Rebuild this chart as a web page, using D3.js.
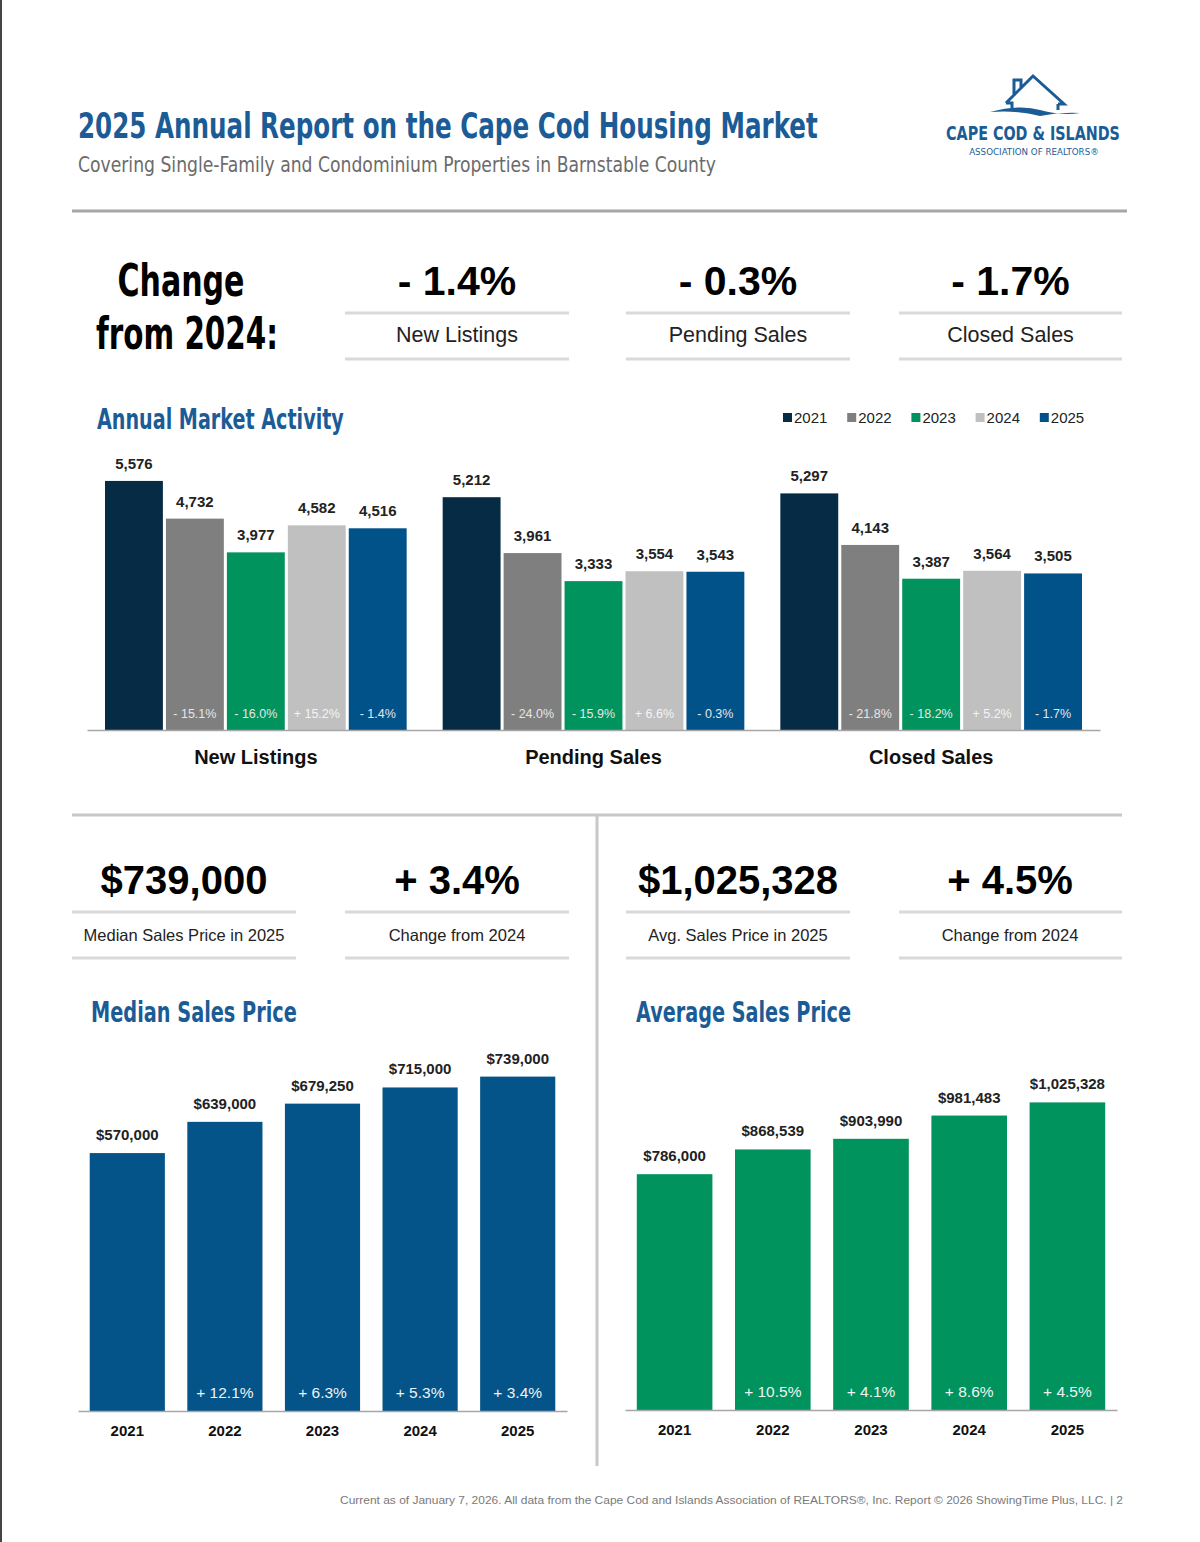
<!DOCTYPE html>
<html>
<head>
<meta charset="utf-8">
<script src="https://cdn.jsdelivr.net/npm/d3@7"></script>
<style>
  body { margin: 0; background: #fff; }
  .narrow { font-family: "Liberation Sans Narrow", "DejaVu Sans Condensed", sans-serif; }
  .sans { font-family: "Liberation Sans", Arial, sans-serif; }
</style>
</head>
<body>
<script>
// chart data
const years = ["2021", "2022", "2023", "2024", "2025"];
const activityCategories = ["New Listings", "Pending Sales", "Closed Sales"];
const newListings = [5576, 4732, 3977, 4582, 4516];
const pendingSales = [5212, 3961, 3333, 3554, 3543];
const closedSales = [5297, 4143, 3387, 3564, 3505];
const newListingsChange = ["", "- 15.1%", "- 16.0%", "+ 15.2%", "- 1.4%"];
const pendingSalesChange = ["", "- 24.0%", "- 15.9%", "+ 6.6%", "- 0.3%"];
const closedSalesChange = ["", "- 21.8%", "- 18.2%", "+ 5.2%", "- 1.7%"];
const headlineChanges = ["- 1.4%", "- 0.3%", "- 1.7%"];

const medianPrice = [570000, 639000, 679250, 715000, 739000];
const medianChange = ["", "+ 12.1%", "+ 6.3%", "+ 5.3%", "+ 3.4%"];
const avgPrice = [786000, 868539, 903990, 981483, 1025328];
const avgChange = ["", "+ 10.5%", "+ 4.1%", "+ 8.6%", "+ 4.5%"];

const yearColors = ["#062b45", "#7f7f7f", "#00935d", "#c0c0c0", "#02528a"];
const BLUE = "#1b5c96";

const width = 1200, height = 1542;
const svg = d3.select("body").append("svg")
    .attr("width", width)
    .attr("height", height);

svg.append("rect").attr("width", width).attr("height", height).attr("fill", "#fff");
svg.append("line").attr("x1", 1).attr("x2", 1).attr("y1", 0).attr("y2", height)
    .attr("stroke", "#444").attr("stroke-width", 2);

// narrow headline text, squeezed horizontally to the width it has in the report
function narrowText(x, y, size, color, len, txt, anchor, weight) {
    const t = svg.append("text").attr("class", "narrow")
        .attr("x", 0).attr("y", 0)
        .attr("text-anchor", anchor || "start")
        .attr("font-size", size).attr("font-weight", weight || "bold").attr("fill", color)
        .text(txt);
    const k = len / t.node().getComputedTextLength();
    t.attr("transform", `translate(${x},${y}) scale(${k},1)`);
    return t;
}

// header
narrowText(78, 138, 36, BLUE, 740, "2025 Annual Report on the Cape Cod Housing Market");
narrowText(78, 172, 22, "#6b6b6b", 638, "Covering Single-Family and Condominium Properties in Barnstable County", "start", "normal");

// logo
const logo = svg.append("g").attr("fill", "none").attr("stroke", BLUE).attr("stroke-width", 3);
logo.append("path")
    .attr("d", "M1006,103 L1033,76 L1064,104 L1058,104 M1006,103 L1012,103 L1012,110 M1014,96 L1014,80 L1021,80 L1021,89 M1058,104 L1058,110");
svg.append("path")
    .attr("d", "M990,112 Q1020,104 1040,110 Q1062,116 1080,113 Q1060,112 1040,116 Q1018,110 990,112 Z")
    .attr("fill", BLUE);
narrowText(1033, 140, 20, BLUE, 174, "CAPE COD & ISLANDS", "middle");
narrowText(1034, 155, 9.5, BLUE, 130, "ASSOCIATION OF REALTORS®", "middle", "normal");

svg.append("line").attr("x1", 72).attr("x2", 1127).attr("y1", 211).attr("y2", 211)
    .attr("stroke", "#a6a6a6").attr("stroke-width", 3);

// change from 2024 row
narrowText(181, 296, 44, "#000", 127, "Change", "middle");
narrowText(187, 349, 44, "#000", 182, "from 2024:", "middle");

function statCard(cx, x1, x2, big, small, bigSize, bigY) {
    svg.append("text").attr("class", "sans")
        .attr("x", cx).attr("y", bigY).attr("text-anchor", "middle")
        .attr("font-size", bigSize).attr("font-weight", "bold").attr("fill", "#000")
        .text(big);
    svg.append("line").attr("x1", x1).attr("x2", x2).attr("y1", bigY + 18).attr("y2", bigY + 18)
        .attr("stroke", "#d9d9d9").attr("stroke-width", 3);
    svg.append("text").attr("class", "sans")
        .attr("x", cx).attr("y", bigY + 47).attr("text-anchor", "middle")
        .attr("font-size", small.size).attr("fill", "#222")
        .text(small.text);
    svg.append("line").attr("x1", x1).attr("x2", x2).attr("y1", bigY + 64).attr("y2", bigY + 64)
        .attr("stroke", "#d9d9d9").attr("stroke-width", 3);
}

const cardX = [[345, 569], [626, 850], [899, 1122]];
activityCategories.forEach((c, i) => {
    const [a, b] = cardX[i];
    statCard((a + b) / 2, a, b, headlineChanges[i], { text: c, size: 21.5 }, 41, 295);
});

// annual market activity
narrowText(97, 429, 28, BLUE, 247, "Annual Market Activity");

const legend = svg.append("g").selectAll("g").data(years).enter().append("g")
    .attr("transform", (d, i) => `translate(${783 + i * 64.2},413)`);
legend.append("rect").attr("width", 9).attr("height", 9).attr("fill", (d, i) => yearColors[i]);
legend.append("text").attr("class", "sans").attr("x", 11).attr("y", 10)
    .attr("font-size", 15).attr("fill", "#222").text(d => d);

const activity = [
    { name: activityCategories[0], values: newListings, changes: newListingsChange },
    { name: activityCategories[1], values: pendingSales, changes: pendingSalesChange },
    { name: activityCategories[2], values: closedSales, changes: closedSalesChange }
];

const x0 = d3.scaleBand().domain(activityCategories).range([87, 1100]);
const x1 = d3.scaleBand().domain(years).range([18, x0.bandwidth() - 18]).paddingInner(0.05);
const yA = d3.scaleLinear().domain([0, 6000]).range([730, 462]);

const groups = svg.append("g").selectAll("g").data(activity).enter().append("g")
    .attr("transform", d => `translate(${x0(d.name)},0)`);

groups.selectAll("rect").data(d => d.values).enter().append("rect")
    .attr("x", (v, i) => x1(years[i]))
    .attr("width", x1.bandwidth())
    .attr("y", v => yA(v))
    .attr("height", v => yA(0) - yA(v))
    .attr("fill", (v, i) => yearColors[i]);

groups.selectAll("text.val").data(d => d.values).enter().append("text")
    .attr("class", "val sans")
    .attr("x", (v, i) => x1(years[i]) + x1.bandwidth() / 2)
    .attr("y", v => yA(v) - 12)
    .attr("text-anchor", "middle")
    .attr("font-size", 15).attr("font-weight", "bold").attr("fill", "#222")
    .text(v => d3.format(",")(v));

groups.selectAll("text.chg").data(d => d.changes).enter().append("text")
    .attr("class", "chg sans")
    .attr("x", (c, i) => x1(years[i]) + x1.bandwidth() / 2)
    .attr("y", 718)
    .attr("text-anchor", "middle")
    .attr("font-size", 12.5).attr("fill", (c, i) => i === 3 ? "#f4f4f4" : "#e6e6e6")
    .text(c => c);

svg.append("g").attr("transform", "translate(0,730)")
    .call(d3.axisBottom(x0).tickSize(0).tickPadding(20))
    .call(g => g.select(".domain").attr("stroke", "#a6a6a6").attr("stroke-width", 1.5))
    .call(g => g.selectAll("text").attr("class", "sans").attr("font-size", 20)
        .attr("font-weight", "bold").attr("fill", "#111"));

// dividers
svg.append("line").attr("x1", 72).attr("x2", 1122).attr("y1", 815).attr("y2", 815)
    .attr("stroke", "#c8c8c8").attr("stroke-width", 3);
svg.append("line").attr("x1", 597).attr("x2", 597).attr("y1", 815).attr("y2", 1466)
    .attr("stroke", "#c8c8c8").attr("stroke-width", 3);

// price cards
statCard(184, 72, 296, "$" + d3.format(",")(medianPrice[4]), { text: "Median Sales Price in 2025", size: 16.5 }, 40, 894);
statCard(457, 345, 569, medianChange[4], { text: "Change from 2024", size: 16.5 }, 40, 894);
statCard(738, 626, 850, "$" + d3.format(",")(avgPrice[4]), { text: "Avg. Sales Price in 2025", size: 16.5 }, 40, 894);
statCard(1010, 899, 1122, avgChange[4], { text: "Change from 2024", size: 16.5 }, 40, 894);

function priceChart(title, titleX, titleLen, values, changes, color, range, base, maxV, topY) {
    narrowText(titleX, 1022, 28, BLUE, titleLen, title);

    const x = d3.scaleBand().domain(years).range(range).paddingInner(0.23).paddingOuter(0.12);
    const y = d3.scaleLinear().domain([0, maxV]).range([base, topY]);

    const g = svg.append("g");
    g.selectAll("rect").data(values).enter().append("rect")
        .attr("x", (v, i) => x(years[i]))
        .attr("width", x.bandwidth())
        .attr("y", v => y(v))
        .attr("height", v => y(0) - y(v))
        .attr("fill", color);

    g.selectAll("text.val").data(values).enter().append("text")
        .attr("class", "val sans")
        .attr("x", (v, i) => x(years[i]) + x.bandwidth() / 2)
        .attr("y", v => y(v) - 13)
        .attr("text-anchor", "middle")
        .attr("font-size", 15).attr("font-weight", "bold").attr("fill", "#222")
        .text(v => "$" + d3.format(",")(v));

    g.selectAll("text.chg").data(changes).enter().append("text")
        .attr("class", "chg sans")
        .attr("x", (c, i) => x(years[i]) + x.bandwidth() / 2)
        .attr("y", base - 13)
        .attr("text-anchor", "middle")
        .attr("font-size", 15.5).attr("fill", "#eef3f3")
        .text(c => c);

    svg.append("g").attr("transform", `translate(0,${base})`)
        .call(d3.axisBottom(x).tickSize(0).tickPadding(14))
        .call(s => s.select(".domain").attr("stroke", "#a6a6a6").attr("stroke-width", 1.5))
        .call(s => s.selectAll("text").attr("class", "sans").attr("font-size", 15)
            .attr("font-weight", "bold").attr("fill", "#111"));
}

priceChart("Median Sales Price", 91, 206, medianPrice, medianChange, "#04548a", [78, 567], 1411, 800000, 1049);
priceChart("Average Sales Price", 636, 215, avgPrice, avgChange, "#00935d", [625, 1117], 1410, 1200000, 1050);

// footer
svg.append("text").attr("class", "sans")
    .attr("x", 1123).attr("y", 1504).attr("text-anchor", "end")
    .attr("font-size", 11.5).attr("fill", "#7a7a7a")
    .attr("textLength", 783).attr("lengthAdjust", "spacingAndGlyphs")
    .text("Current as of January 7, 2026. All data from the Cape Cod and Islands Association of REALTORS®, Inc. Report © 2026 ShowingTime Plus, LLC.  |  2");
</script>
</body>
</html>
